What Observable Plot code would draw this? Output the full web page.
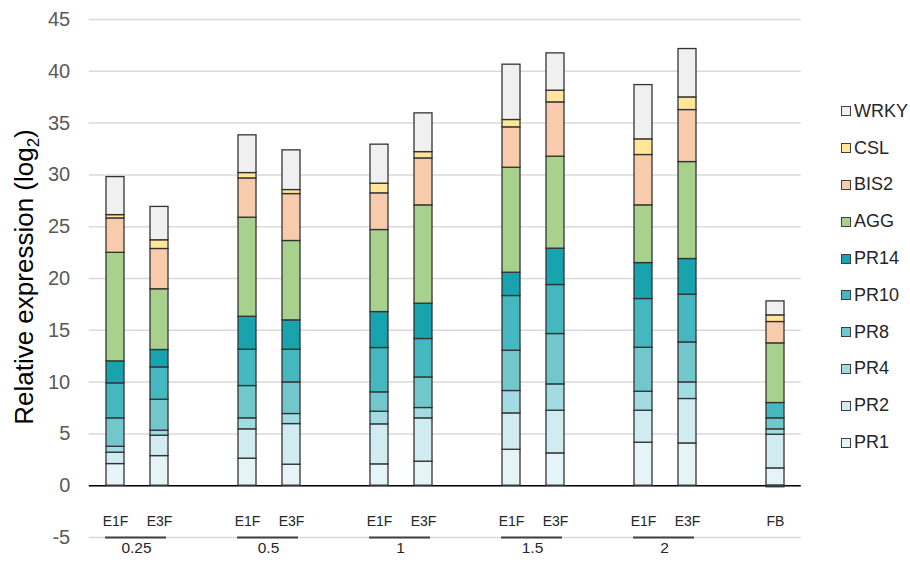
<!DOCTYPE html>
<html><head><meta charset="utf-8">
<script src="https://cdn.jsdelivr.net/npm/d3@7"></script>
<script src="https://cdn.jsdelivr.net/npm/@observablehq/plot@0.6"></script>
<style>
body{margin:0;background:#fff;font-family:"Liberation Sans",Arial,sans-serif;}
#wrap{position:relative;width:910px;height:562px;overflow:hidden;}
#legend{position:absolute;left:841px;top:93px;}
.item{display:flex;align-items:center;height:36.8px;font-size:18px;color:#262626;white-space:nowrap;}
.sw{width:8px;height:8px;border:1px solid #404040;margin-right:3px;flex:none;}
</style></head><body><div id="wrap"><div id="legend"></div></div>
<script>
// Genes (stack order, bottom to top) and their colours
const genes = ["PR1","PR2","PR4","PR8","PR10","PR14","AGG","BIS2","CSL","WRKY"];
const geneColors = ["#e5f4f6","#d1ecf0","#a2dbe1","#72c7cd","#45b7bf","#19a3ae","#a9d18e","#f8cbad","#ffe699","#f0f0f0"];

// Time groups and treatments
const groups = ["0.25","0.5","1","1.5","2"];
const treatments = ["E1F","E3F"];
const control = "FB";

// Bars in order: 0.25 E1F, 0.25 E3F, 0.5 E1F, ... 2 E3F, FB
const pr1  = [2.09, 2.86, 2.61, 2.03, 2.06, 2.32, 3.47, 3.12, 4.15, 4.08, 1.67];
const pr2  = [1.10, 1.97, 2.83, 3.92, 3.86, 4.18, 3.51, 4.12, 3.09, 4.29, 3.25];
const pr4  = [0.57, 0.48, 1.06, 0.97, 1.22, 1.00, 2.16, 2.54, 1.83, 1.60, 0.52];
const pr8  = [2.74, 2.99, 3.12, 3.05, 1.87, 2.95, 3.89, 4.86, 4.25, 3.86, 1.06];
const pr10 = [3.38, 3.12, 3.51, 3.16, 4.28, 3.71, 5.28, 4.73, 4.70, 4.61, 1.48];
const pr14 = [2.12, 1.68, 3.18, 2.83, 3.47, 3.41, 2.25, 3.51, 3.47, 3.44, -0.15];
const agg  = [10.48, 5.86, 9.56, 7.66, 7.92, 9.49, 10.13, 8.88, 5.57, 9.36, 5.76];
const bis2 = [3.32, 3.89, 3.79, 4.53, 3.54, 4.53, 3.90, 5.24, 4.86, 5.02, 2.06];
const csl  = [0.32, 0.84, 0.52, 0.39, 0.93, 0.61, 0.71, 1.13, 1.51, 1.22, 0.64];
const wrky = [3.67, 3.22, 3.64, 3.83, 3.77, 3.74, 5.34, 3.60, 5.24, 4.67, 1.35];

const yTicks = [-5, 0, 5, 10, 15, 20, 25, 30, 35, 40, 45];

// ---- build tables ----
const seriesValues = {PR1: pr1, PR2: pr2, PR4: pr4, PR8: pr8, PR10: pr10, PR14: pr14, AGG: agg, BIS2: bis2, CSL: csl, WRKY: wrky};
const bars = [];
const barLabels = [];
const slots = [];
groups.forEach((g, i) => {
  treatments.forEach(t => { bars.push(g + " " + t); barLabels.push(t); slots.push(g + " " + t); });
  slots.push("gap" + i);
});
bars.push(control); barLabels.push(control); slots.push(control);

const data = [];
bars.forEach((b, i) => genes.forEach(g => data.push({bar: b, gene: g, value: seriesValues[g][i]})));
const labelRows = bars.map((b, i) => ({bar: b, label: barLabels[i]}));

const plot = Plot.plot({
  width: 910, height: 562,
  marginLeft: 88.75, marginRight: 109.25, marginTop: 19, marginBottom: 25,
  style: {fontFamily: "'Liberation Sans', Arial, sans-serif", background: "white"},
  x: {type: "band", domain: slots, paddingInner: 0.6, paddingOuter: 0.3, axis: null},
  y: {domain: [-5, 45], label: null},
  color: {domain: genes, range: geneColors},
  marks: [
    Plot.gridY(yTicks, {stroke: "#d9d9d9", strokeOpacity: 1, strokeWidth: 1.5}),
    Plot.axisY(yTicks, {tickSize: 0, tickPadding: 19, fontSize: 20, fill: "#595959", label: null, tickFormat: d => String(d)}),
    Plot.ruleY([0], {stroke: "#000", strokeWidth: 1.5}),
    Plot.barY(data, {x: "bar", y: "value", fill: "gene", z: "gene", order: genes, stroke: "#333", strokeWidth: 1.3}),
    Plot.text(labelRows, {x: "bar", text: "label", frameAnchor: "bottom", dy: -12, fontSize: 14, fill: "#262626"}),
    Plot.ruleY(groups, {x1: g => g + " E1F", x2: g => g + " E3F", y: () => -5, stroke: "#404040", strokeWidth: 2, insetLeft: -1, insetRight: 2}),
    Plot.text(groups, {x: g => g + " E1F", text: d => d, frameAnchor: "bottom", dy: 15, dx: 21, fontSize: 15.5, fill: "#262626"})
  ]
});

const svg = d3.select(plot);
const title = svg.append("text")
  .attr("transform", "translate(33,277) rotate(-90)")
  .attr("text-anchor", "middle")
  .attr("font-size", 26)
  .attr("fill", "#000");
title.append("tspan").text("Relative expression (log");
title.append("tspan").attr("font-size", 17).attr("dy", 6).text("2");
title.append("tspan").attr("dy", -6).text(")");

const wrap = document.getElementById("wrap");
wrap.insertBefore(plot, wrap.firstChild);

const legend = d3.select("#legend");
genes.slice().reverse().forEach(g => {
  const it = legend.append("div").attr("class", "item");
  it.append("div").attr("class", "sw").style("background", geneColors[genes.indexOf(g)]);
  it.append("span").text(g);
});
</script>
</body></html>
